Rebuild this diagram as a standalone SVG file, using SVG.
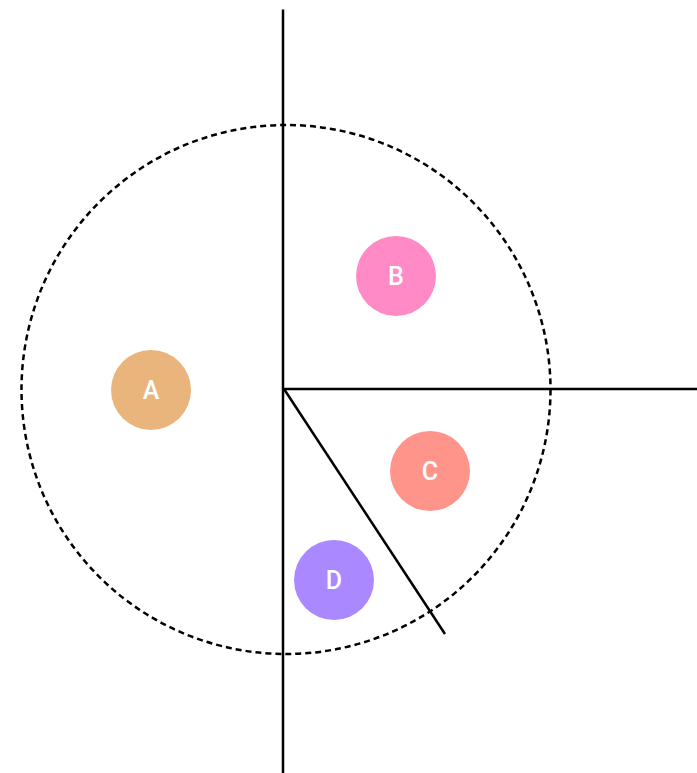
<svg xmlns="http://www.w3.org/2000/svg" width="697" height="773" viewBox="0 0 697 773">
<style>
.ln{stroke:#000;stroke-width:2.5;fill:none}
.lbl{font-family:Roboto,"Liberation Sans",sans-serif;font-size:25px;font-weight:500;fill:#fff;text-anchor:middle;dominant-baseline:central}
</style>
<rect width="697" height="773" fill="#fff"/>
<g id="connectors">
<circle cx="286" cy="389.5" r="264.5" fill="none" stroke="#000" stroke-width="2.5" stroke-dasharray="6 4"/>
<line class="ln" x1="283" y1="9.5" x2="283" y2="773"/>
<line class="ln" x1="283" y1="389" x2="697" y2="389"/>
<line class="ln" x1="284" y1="389" x2="445" y2="634"/>
</g>
<g id="A"><circle cx="151" cy="390" r="40" fill="#E9B57C"/><text class="lbl" x="151" y="390">A</text></g>
<g id="B"><circle cx="396" cy="276" r="40" fill="#FF8AC6"/><text class="lbl" x="396" y="276">B</text></g>
<g id="C"><circle cx="430" cy="471" r="40" fill="#FF958A"/><text class="lbl" x="430" y="471">C</text></g>
<g id="D"><circle cx="334" cy="580" r="40" fill="#AA88FF"/><text class="lbl" x="334" y="580">D</text></g>
</svg>
